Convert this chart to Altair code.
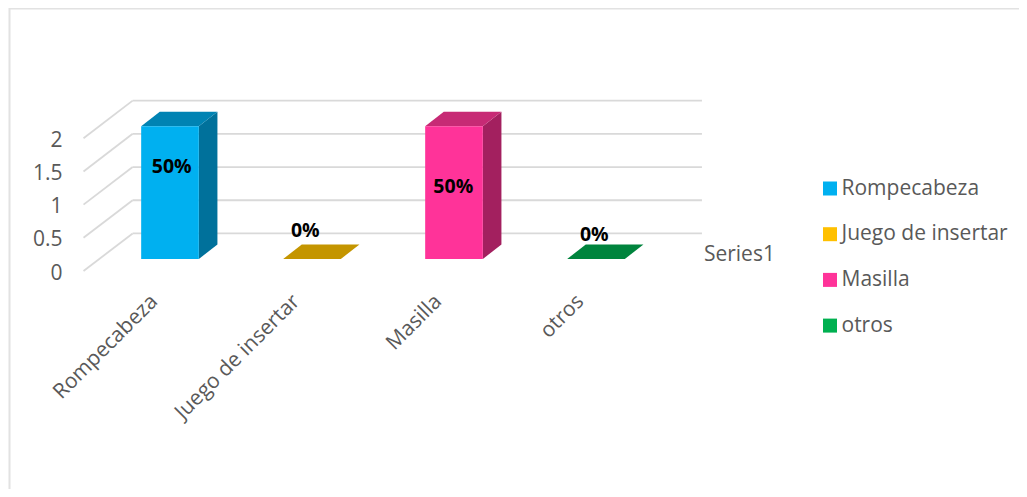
import json
import altair as alt
import pandas as pd

CATEGORIES = ["Rompecabeza", "Juego de insertar", "Masilla", "otros"]
VALUES = [2, 0, 2, 0]
LABELS = ["50%", "0%", "50%", "0%"]
LABEL_X = [0.012, -0.047, -0.005, -0.012]
LABEL_Y = [1.393, 0.417, 1.089, 0.368]
FRONT = ["#00B0F0", "#FFC000", "#FF3399", "#00B050"]
SIDE = ["#00719B", "#A57C00", "#A3205F", "#00723A"]
TOP = ["#0083B3", "#C49500", "#C72A75", "#00843D"]
TICKS = [0, 0.5, 1, 1.5, 2]

FONT = "Open Sans"
GREY = "#595959"
GRID = "#D9D9D9"
W, H = 1011, 481
PX_X, PX_Y = 142.0, 66.4          # pixels per category / per value unit
ORIGIN_X, ORIGIN_Y = 162.0, 251.0 # plot-pixel position of category 0 / value 0
HALF = 0.203                      # half bar width, category units
DX, DY = 0.131, 0.218             # bar depth
FLOOR_X0, FLOOR_X1, FLOOR_X2 = -0.609, -0.263, 3.746
FLOOR_Y0, FLOOR_Y1 = -0.181, 0.385

xs = alt.Scale(domain=[-ORIGIN_X / PX_X, (W - ORIGIN_X) / PX_X], nice=False, zero=False)
ys = alt.Scale(domain=[-(H - ORIGIN_Y) / PX_Y, ORIGIN_Y / PX_Y], nice=False, zero=False)

X = alt.X("x:Q", scale=xs, title=None, axis=None)
Y = alt.Y("y:Q", scale=ys, title=None, axis=None)

diag = pd.DataFrame([{"x": FLOOR_X0, "x2": FLOOR_X1, "y": t + FLOOR_Y0, "y2": t + FLOOR_Y1} for t in TICKS])
back = pd.DataFrame([{"x": FLOOR_X1, "x2": FLOOR_X2, "y": t + FLOOR_Y1, "y2": t + FLOOR_Y1} for t in TICKS])
grid = pd.concat([diag, back])
grid_layer = alt.Chart(grid).mark_rule(color=GRID, strokeWidth=1.8).encode(
    x=X, x2="x2:Q", y=Y, y2="y2:Q"
)

front_df = pd.DataFrame({
    "cat": CATEGORIES,
    "x": [i - HALF for i in range(4)],
    "x2": [i + HALF for i in range(4)],
    "y": VALUES,
    "y2": [0] * 4,
})

side_rows, top_rows = [], []
for i, (c, v) in enumerate(zip(CATEGORIES, VALUES)):
    side_rows += [
        {"cat": c, "x": i + HALF, "y": v, "y2": 0},
        {"cat": c, "x": i + HALF + DX, "y": v + DY, "y2": DY},
    ]
    top_rows += [
        {"cat": c, "y": v, "x": i - HALF, "x2": i + HALF},
        {"cat": c, "y": v + DY, "x": i - HALF + DX, "x2": i + HALF + DX},
    ]


def col(rng, legend=None):
    return alt.Color("cat:N", scale=alt.Scale(domain=CATEGORIES, range=rng), legend=legend)


legend = alt.Legend(
    title=None, orient="none", legendX=811.5, legendY=170,
    symbolType="square", symbolSize=196, symbolStrokeWidth=0, symbolOpacity=1,
    labelFont=FONT, labelFontSize=21, labelColor=GREY, labelOffset=1,
    rowPadding=23.7, labelLimit=300,
)

front_layer = alt.Chart(front_df).mark_rect(strokeWidth=0).encode(
    x=alt.X("x:Q", scale=xs, title=None,
            axis=alt.Axis(values=[0, 1, 2, 3], labelExpr=f"{json.dumps(CATEGORIES)}[datum.value]",
                          domain=False, ticks=False, grid=False, labelAngle=-45,
                          labelAlign="right", labelBaseline="middle", labelFont=FONT,
                          labelFontSize=21, labelColor=GREY, labelOverlap=False,
                          labelOffset=-16, labelPadding=0, offset=-(H - 290), labelLimit=300,
                          labelFlush=False, orient="bottom")),
    x2="x2:Q",
    y=alt.Y("y:Q", scale=ys, title=None,
            axis=alt.Axis(values=TICKS, format=".1~f", domain=False, ticks=False, grid=False,
                          labelAlign="right", labelBaseline="middle", labelFont=FONT,
                          labelFontSize=21, labelColor=GREY, labelOffset=14, labelPadding=0,
                          labelOverlap=False, offset=-54, orient="left")),
    y2="y2:Q",
    color=col(FRONT, legend),
)
side_layer = alt.Chart(pd.DataFrame(side_rows)).mark_area(interpolate="linear", orient="vertical", opacity=1).encode(
    x=X, y=Y, y2="y2:Q", color=col(SIDE)
)
top_layer = alt.Chart(pd.DataFrame(top_rows)).mark_area(interpolate="linear", orient="horizontal", opacity=1).encode(
    x=X, x2="x2:Q", y=Y, color=col(TOP)
)

label_df = pd.DataFrame({
    "x": [i + d for i, d in enumerate(LABEL_X)],
    "y": LABEL_Y,
    "t": LABELS,
})
label_layer = alt.Chart(label_df).mark_text(
    font=FONT, fontSize=19.5, fontWeight="bold", color="#000000", baseline="middle", align="center"
).encode(x=X, y=Y, text="t:N")

series_layer = alt.Chart(pd.DataFrame({"x": [4.01], "y": [0.065], "t": ["Series1"]})).mark_text(
    font=FONT, fontSize=21, color=GREY, baseline="middle", align="center"
).encode(x=X, y=Y, text="t:N")

border_top = alt.Chart(pd.DataFrame({"a": [0]})).mark_rule(color="#E2E2E2", strokeWidth=2).encode(
    x=alt.value(1), x2=alt.value(W), y=alt.value(0.5)
)
border_left = alt.Chart(pd.DataFrame({"a": [0]})).mark_rule(color="#E2E2E2", strokeWidth=2).encode(
    x=alt.value(1.5), y=alt.value(0), y2=alt.value(H)
)

chart = alt.layer(
    border_top, border_left, grid_layer, side_layer, top_layer, front_layer, label_layer, series_layer
).resolve_scale(color="independent").resolve_axis(x="independent", y="independent").properties(
    width=W, height=H, padding=0, autosize=alt.AutoSizeParams(type="none"), background="#FFFFFF"
).configure_view(stroke=None)

chart.save("out.html", embed_options={"renderer": "svg", "actions": False})
